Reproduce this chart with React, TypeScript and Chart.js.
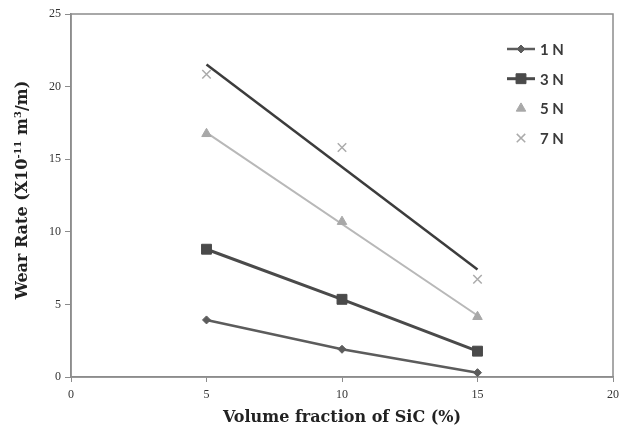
import React, { useEffect, useRef } from 'react';
import { Chart, registerables } from 'chart.js';

Chart.register(...registerables);

// ---- data ----
const sicFraction = [5, 10, 15];
const wear1N = [3.93, 1.91, 0.3];
const wear3N = [8.8, 5.35, 1.78];
const wear5N = [16.75, 10.7, 4.15];
const wear7N = [20.85, 15.8, 6.73];
const seriesLabels = ['1 N', '3 N', '5 N', '7 N'];
const xMin = 0, xMax = 20, xStep = 5;
const yMin = 0, yMax = 25, yStep = 5;
const xTitle = 'Volume fraction of SiC (%)';
const yTitleParts = ['Wear Rate (X10', '-11', ' m', '3', '/m)'];

function pts(ys: number[]) {
  return sicFraction.map((x, i) => ({ x, y: ys[i] }));
}

// linear trendline (least squares) over the series' x range
function trend(ys: number[]) {
  const n = sicFraction.length;
  const mx = sicFraction.reduce((a, b) => a + b, 0) / n;
  const my = ys.reduce((a, b) => a + b, 0) / n;
  let sxy = 0, sxx = 0;
  for (let i = 0; i < n; i++) {
    sxy += (sicFraction[i] - mx) * (ys[i] - my);
    sxx += (sicFraction[i] - mx) ** 2;
  }
  const b = sxy / sxx;
  const a = my - b * mx;
  const x0 = sicFraction[0], x1 = sicFraction[n - 1];
  return [{ x: x0, y: a + b * x0 }, { x: x1, y: a + b * x1 }];
}

function drawMarker(ctx: CanvasRenderingContext2D, style: string, x: number, y: number, r: number, fill: string, stroke: string, lw: number) {
  ctx.save();
  ctx.fillStyle = fill;
  ctx.strokeStyle = stroke;
  ctx.lineWidth = lw;
  ctx.beginPath();
  if (style === 'rectRot') {
    ctx.moveTo(x, y - r); ctx.lineTo(x + r, y); ctx.lineTo(x, y + r); ctx.lineTo(x - r, y); ctx.closePath();
    ctx.fill(); ctx.stroke();
  } else if (style === 'rect') {
    const s = r * Math.SQRT1_2;
    ctx.rect(x - s, y - s, 2 * s, 2 * s); ctx.fill(); ctx.stroke();
  } else if (style === 'triangle') {
    const h = r * 1.5;
    ctx.moveTo(x, y - r); ctx.lineTo(x + h * 0.577, y + r * 0.5); ctx.lineTo(x - h * 0.577, y + r * 0.5); ctx.closePath();
    ctx.fill(); ctx.stroke();
  } else if (style === 'crossRot') {
    const s = r * Math.SQRT1_2;
    ctx.moveTo(x - s, y - s); ctx.lineTo(x + s, y + s);
    ctx.moveTo(x + s, y - s); ctx.lineTo(x - s, y + s);
    ctx.stroke();
  }
  ctx.restore();
}

const framePlugin = {
  id: 'frame',
  beforeDatasetsDraw(chart: any) {
    const { ctx, chartArea: a } = chart;
    ctx.save();
    ctx.strokeStyle = '#8c8c8c';
    ctx.lineWidth = 1.5;
    ctx.strokeRect(a.left, a.top, a.right - a.left, a.bottom - a.top);
    ctx.restore();
  },
  afterDraw(chart: any) {
    const { ctx } = chart;
    // y axis title with superscripts
    ctx.save();
    ctx.translate(23, 190);
    ctx.rotate(-Math.PI / 2);
    ctx.fillStyle = '#222';
    ctx.textBaseline = 'middle';
    const big = 'bold 16px "DejaVu Serif"';
    const small = 'bold 10px "DejaVu Serif"';
    const widths = yTitleParts.map((t, i) => {
      ctx.font = i % 2 === 1 ? small : big;
      return ctx.measureText(t).width;
    });
    const total = widths.reduce((a, b) => a + b, 0);
    let x = -total / 2;
    yTitleParts.forEach((t, i) => {
      ctx.font = i % 2 === 1 ? small : big;
      ctx.fillText(t, x, i % 2 === 1 ? -5 : 0);
      x += widths[i];
    });
    ctx.restore();

    // legend
    const entries = chart.data.datasets.filter((d: any) => d.legendEntry);
    const lx = 507, ly0 = 49, dy = 29.7;
    entries.forEach((d: any, i: number) => {
      const y = ly0 + i * dy;
      if (d.legendLine) {
        ctx.save();
        ctx.strokeStyle = d.borderColor;
        ctx.lineWidth = d.borderWidth;
        ctx.beginPath();
        ctx.moveTo(lx, y); ctx.lineTo(lx + 28, y);
        ctx.stroke();
        ctx.restore();
      }
      drawMarker(ctx, d.pointStyle, lx + 14, y, d.pointRadius, d.pointBackgroundColor, d.pointBorderColor, d.pointBorderWidth);
      ctx.save();
      ctx.font = 'bold 15px Lato';
      ctx.fillStyle = '#3a3a3a';
      ctx.textBaseline = 'middle';
      ctx.fillText(d.label, lx + 33, y + 1);
      ctx.restore();
    });
  },
};

export default function App() {
  const ref = useRef<HTMLCanvasElement | null>(null);
  useEffect(() => {
    if (!ref.current) return;
    const chart = new Chart(ref.current, {
      type: 'scatter',
      data: {
        datasets: [
          {
            label: seriesLabels[0], data: pts(wear1N), showLine: true,
            borderColor: '#5c5c5c', borderWidth: 2.5,
            pointStyle: 'rectRot', pointRadius: 4, pointBackgroundColor: '#5c5c5c', pointBorderColor: '#5c5c5c', pointBorderWidth: 1,
            legendEntry: true, legendLine: true, order: 1,
          } as any,
          {
            label: seriesLabels[1], data: pts(wear3N), showLine: true,
            borderColor: '#4a4a4a', borderWidth: 3,
            pointStyle: 'rect', pointRadius: 7, pointBackgroundColor: '#4a4a4a', pointBorderColor: '#4a4a4a', pointBorderWidth: 1,
            legendEntry: true, legendLine: true, order: 1,
          } as any,
          {
            label: seriesLabels[2], data: pts(wear5N), showLine: false,
            borderColor: '#a8a8a8', borderWidth: 1,
            pointStyle: 'triangle', pointRadius: 5.5, pointBackgroundColor: '#a8a8a8', pointBorderColor: '#a8a8a8', pointBorderWidth: 1,
            legendEntry: true, legendLine: false, order: 1,
          } as any,
          {
            label: seriesLabels[3], data: pts(wear7N), showLine: false,
            borderColor: '#ababab', borderWidth: 1.5,
            pointStyle: 'crossRot', pointRadius: 6, pointBackgroundColor: '#ababab', pointBorderColor: '#ababab', pointBorderWidth: 1.5,
            legendEntry: true, legendLine: false, order: 1,
          } as any,
          {
            label: seriesLabels[2] + ' trend', data: trend(wear5N), showLine: true,
            borderColor: '#b8b8b8', borderWidth: 2, pointRadius: 0, order: 3,
          } as any,
          {
            label: seriesLabels[3] + ' trend', data: trend(wear7N), showLine: true,
            borderColor: '#3c3c3c', borderWidth: 2.5, pointRadius: 0, order: 3,
          } as any,
        ],
      },
      options: {
        animation: false,
        responsive: false,
        layout: { padding: { top: 14, right: 6, left: 0, bottom: 0 } },
        plugins: { legend: { display: false }, tooltip: { enabled: false } },
        scales: {
          x: {
            type: 'linear', min: xMin, max: xMax,
            ticks: { stepSize: xStep, color: '#333', font: { family: '"Liberation Serif"', size: 12 }, padding: 6 },
            grid: { drawOnChartArea: false, drawTicks: true, tickLength: 5, color: '#8c8c8c', lineWidth: 1 },
            border: { display: true, color: '#8c8c8c', width: 1.5 },
            title: { display: true, text: xTitle, color: '#222', font: { family: '"DejaVu Serif"', size: 16, weight: 'bold' }, padding: { top: 0, bottom: 3 } },
            afterFit: (s: any) => { s.height = 53; s.paddingRight = 0; s.paddingLeft = 0; },
          },
          y: {
            type: 'linear', min: yMin, max: yMax,
            ticks: { stepSize: yStep, color: '#333', font: { family: '"Liberation Serif"', size: 12 }, padding: 4 },
            grid: { drawOnChartArea: false, drawTicks: true, tickLength: 6, color: '#8c8c8c', lineWidth: 1 },
            border: { display: true, color: '#8c8c8c', width: 1.5 },
            title: { display: false },
            afterFit: (s: any) => { s.width = 71; s.paddingTop = 0; s.paddingBottom = 0; },
          },
        },
      } as any,
      plugins: [framePlugin],
    });
    return () => chart.destroy();
  }, []);
  return (
    <div style={{ position: 'absolute', left: 0, top: 0, width: 621, height: 430, background: '#fff' }}>
      <canvas ref={ref} width={621} height={430} />
    </div>
  );
}
